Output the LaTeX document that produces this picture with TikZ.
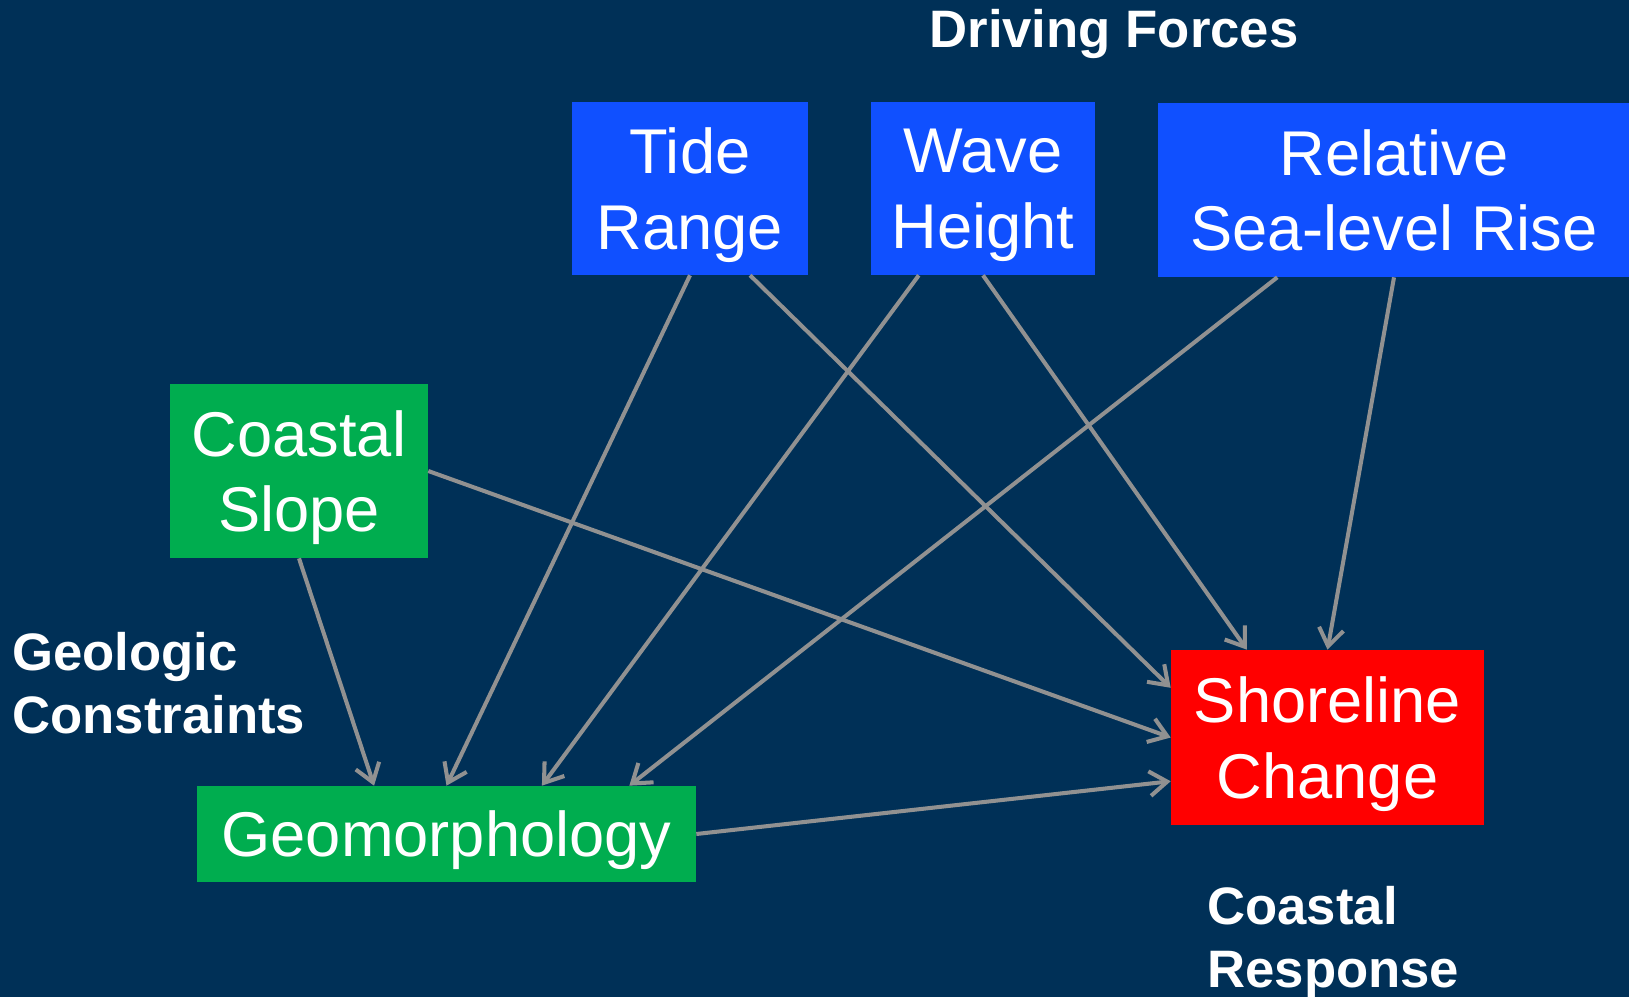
\documentclass[tikz,border=0pt]{standalone}
\usepackage{fontspec}
\setmainfont{Liberation Sans}
\usetikzlibrary{
  arrows.meta, % Straight Barb tips
  calc         % points along box edges
}
\definecolor{bgnavy}{RGB}{0,48,87}
\definecolor{forceblue}{RGB}{16,80,255}
\definecolor{geogreen}{RGB}{0,173,79}
\definecolor{shorered}{RGB}{255,0,0}
\definecolor{linkgray}{RGB}{145,145,145}
\tikzset{
  boxtext/.style={
    rectangle,
    inner sep=0pt,
    align=center,
    text depth=0pt,
    text=white,
    font=\fontsize{36}{43}\selectfont
  },
  force box/.style={boxtext, fill=forceblue},
  geo box/.style={boxtext, fill=geogreen},
  response box/.style={boxtext, fill=shorered},
  group label/.style={
    inner sep=0pt,
    align=left,
    text=white,
    font=\fontsize{30}{36}\selectfont\bfseries
  },
  link/.style={
    -{Straight Barb[length=10pt, width=14pt, line width=2.3pt]},
    line width=2.3pt,
    color=linkgray
  }
}

\begin{document}
\begin{tikzpicture}[x=0.02cm, y=-0.02cm]

  % background, same size as the slide
  \fill[bgnavy] (0,0) rectangle (1629,997);
  \useasboundingbox (0,0) rectangle (1629,997);

  % ---------------- driving forces ----------------
  \node[group label, align=center] (drive) at (1114,34) {Driving Forces};
  \node[force box, minimum width=4.72cm, minimum height=3.46cm] (tide) at (690,188.5) {Tide\\Range};
  \node[force box, minimum width=4.48cm, minimum height=3.46cm] (wave) at (983,188.5) {Wave\\Height};
  \node[force box, minimum width=9.44cm, minimum height=3.48cm] (slr) at (1394,190) {Relative\\Sea-level Rise};

  % ---------------- geologic constraints ----------------
  \node[geo box, minimum width=5.16cm, minimum height=3.48cm] (slope) at (299,471) {Coastal\\Slope};
  \node[geo box, minimum width=9.98cm, minimum height=1.92cm] (geo) at (446.5,834) {Geomorphology};
  \node[group label, anchor=west] (geolab) at (12,683) {Geologic\\Constraints};

  % ---------------- coastal response ----------------
  \node[response box, minimum width=6.26cm, minimum height=3.5cm] (shore) at (1327.5,737.5) {Shoreline\\Change};
  \node[group label, anchor=west] (resplab) at (1207,942) {Coastal\\Response};

  % ---------------- links ----------------
  % to geomorphology
  \draw[link] (tide.south) -- (geo.north);
  \draw[link] ($(wave.south west)!.214!(wave.south east)$) -- ($(geo.north west)!.691!(geo.north east)$);
  \draw[link] ($(slr.south west)!.253!(slr.south east)$) -- ($(geo.north west)!.866!(geo.north east)$);
  \draw[link] (slope.south) -- ($(geo.north west)!.355!(geo.north east)$);

  % to shoreline change
  \draw[link] ($(tide.south west)!.754!(tide.south east)$) -- ($(shore.north west)!.217!(shore.south west)$);
  \draw[link] (wave.south) -- ($(shore.north west)!.243!(shore.north east)$);
  \draw[link] (slr.south) -- (shore.north);
  \draw[link] (slope.east) -- (shore.west);
  \draw[link] (geo.east) -- ($(shore.north west)!.749!(shore.south west)$);

\end{tikzpicture}
\end{document}
